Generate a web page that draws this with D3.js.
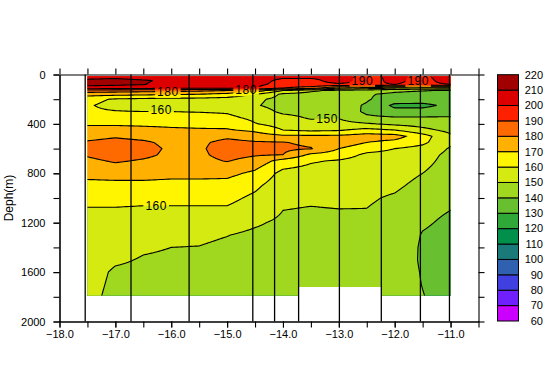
<!DOCTYPE html>
<html>
<head>
<meta charset="utf-8">
<script src="https://cdn.jsdelivr.net/npm/d3@7"></script>
<style>
  body { margin: 0; background: #fff; }
  svg { display: block; font-family: "Liberation Sans", Arial, Helvetica, sans-serif; }
</style>
</head>
<body>
<svg id="chart" width="558" height="390"></svg>
<script>
var lons = [-17.5, -17.0, -16.5, -16.0, -15.5, -15.0, -14.5, -14.0, -13.5, -13.0, -12.5, -12.0, -11.5, -11.0];
var depths = [15, 50, 80, 110, 130, 160, 200, 250, 300, 350, 400, 450, 500, 550, 600, 650, 700,
              800, 900, 1000, 1100, 1200, 1300, 1400, 1500, 1600, 1700, 1800];

// one row per depth level, one value per column
var values = [
  [206, 207, 205, 205, 205, 205, 204, 203, 202, 201, 199, 201, 199, 203],
  [212, 213, 211, 208, 206, 206, 205, 197, 198, 203, 197, 202, 197, 204],
  [213, 212, 210.5, 206, 205, 204, 203, 196, 198, 199, 199, 200, 198, 200],
  [205, 204, 203, 202, 201, 201, 200, 190, 185, 170, 165, 160, 158, 158],
  [186, 185, 184, 183, 182, 180, 176, 160, 152, 147, 145, 142, 140.5, 139],
  [174, 173, 172, 171, 170, 167, 160, 148, 146, 145, 141, 138, 136, 136],
  [163, 159, 158, 157, 157, 156, 152, 147, 146, 145, 141, 135, 134, 135],
  [161, 157, 155, 155, 155, 154, 151, 146, 145, 144, 139, 128, 128, 132],
  [161.5, 160.5, 160, 160, 159.5, 159, 155, 148, 147, 147, 138, 133, 133, 135],
  [165, 165, 164, 164, 163.5, 162, 158, 153, 149, 149.5, 142, 141, 141, 141],
  [169, 169, 168.5, 168, 167.5, 166.5, 160.5, 156, 153, 153, 151, 148, 146, 143],
  [173, 173, 172.5, 171.5, 171, 171, 168, 160, 158, 159, 163, 160, 153, 147],
  [177, 179, 177, 175, 175, 178, 175, 172, 172, 172, 175, 174, 164, 152],
  [181, 183, 181.5, 177.5, 178, 183, 181, 180.5, 178, 176, 170, 167, 162, 152],
  [183, 185, 183, 178.5, 178.5, 184.5, 182, 182, 180.5, 170, 164, 160, 157, 149],
  [181, 184, 182, 178, 178, 183.5, 181, 180, 168, 165, 158, 157, 154, 147.5],
  [178, 181, 179, 177, 177, 180.5, 176, 166, 161, 159, 156, 155.5, 153, 146.5],
  [173, 174, 174, 173, 173, 172.5, 168, 157, 156, 155, 154, 153.5, 150, 145],
  [167, 167, 167, 166.5, 166.5, 166.5, 162, 154, 153, 153, 152.5, 151.5, 147.5, 143],
  [163, 163, 162.5, 162.5, 162.5, 162.5, 158, 151.5, 151, 151.5, 151, 149, 145, 141],
  [159, 159, 158.5, 158.5, 158.5, 158.5, 155, 150, 149.5, 149.8, 149.8, 147.5, 142, 140],
  [157, 156, 155, 154.5, 154, 153.5, 151, 148.5, 148.5, 148.5, 148.5, 146.5, 141, 138.5],
  [155.5, 154, 152.5, 151.8, 151.5, 150.2, 148.5, 147.5, 147.5, 147.5, 147.5, 145.5, 139.5, 137.5],
  [155, 152.5, 150.8, 150, 149.8, 148.5, 147.5, 147, 147, 147, 147, 145, 139, 137],
  [154, 151, 149.5, 149, 148.5, 147.5, 147, 146.5, 146.5, 146.5, 146.5, 144.5, 139, 136.5],
  [153, 149, 148.5, 148, 147.5, 147, 146.5, 146, 146, 146, 146, 144, 139.5, 136.5],
  [152.5, 148.5, 148, 147.5, 147, 146.5, 146, 146, 146, 146, 145.5, 144, 139.8, 136.5],
  [152, 148, 147.5, 147, 146.5, 146, 146, 145.5, 146, 146, 145, 144, 140.3, 136.5]
];

// station longitudes (vertical lines) and deepest data between neighbouring stations
var stations = [-17.54, -16.72, -15.68, -14.54, -14.15, -13.72, -12.99, -12.24, -11.54, -11.02];
var sectionBottom = [1790, 1790, 1790, 1790, 1790, 1720, 1720, 1790, 1790];
var topDepth = 14;

var levels = d3.range(60, 230, 10);
var binColors = ['#cc00ff', '#7020ff', '#4040e0', '#3060b0', '#1a7a7a', '#00904c', '#30a838', '#68c030',
                 '#a0d820', '#d4ea10', '#fff500', '#ffb000', '#ff6a00', '#ff2000', '#dc0000', '#a00000'];

var xTicks = [-18, -17, -16, -15, -14, -13, -12, -11];
var xMinor = d3.range(-18, -10.4, 0.5);
var yTicks = [0, 400, 800, 1200, 1600, 2000];
var yMinor = d3.range(0, 2001, 200);

var contourLabels = [
  {text: '180', lon: -16.06, depth: 138},
  {text: '180', lon: -14.66, depth: 125},
  {text: '160', lon: -16.18, depth: 287},
  {text: '150', lon: -13.21, depth: 360},
  {text: '160', lon: -16.27, depth: 1061},
  {text: '190', lon: -12.58, depth: 48},
  {text: '190', lon: -11.58, depth: 48}
];

var svg = d3.select('#chart');
var x = d3.scaleLinear().domain([-18, -10.5]).range([59.5, 478.5]);
var y = d3.scaleLinear().domain([0, 2000]).range([74.5, 321.5]);

// sample the grid onto a finer mesh (bilinear) for the contouring
var step = 0.05, dStep = 5;
var gLon0 = -17.7, gLon1 = -10.8, gD0 = 0, gD1 = 1850;
var nx = Math.round((gLon1 - gLon0) / step) + 1,
    ny = Math.round((gD1 - gD0) / dStep) + 1;

function sample(lon, d) {
    var fx = (lon - lons[0]) / (lons[1] - lons[0]);
    fx = Math.max(0, Math.min(lons.length - 1, fx));
    var i = Math.min(lons.length - 2, Math.floor(fx)), tx = fx - i;
    var dc = Math.max(depths[0], Math.min(depths[depths.length - 1], d));
    var j = Math.min(depths.length - 2, d3.bisectRight(depths, dc) - 1);
    var ty = (dc - depths[j]) / (depths[j + 1] - depths[j]);
    var a = values[j][i], b = values[j][i + 1], c = values[j + 1][i], e = values[j + 1][i + 1];
    return (a * (1 - tx) + b * tx) * (1 - ty) + (c * (1 - tx) + e * tx) * ty;
}

var grid = new Array(nx * ny);
for (var gy = 0; gy < ny; gy++) {
    for (var gx = 0; gx < nx; gx++) {
        grid[gy * nx + gx] = sample(gLon0 + gx * step, gD0 + gy * dStep);
    }
}

var contours = d3.contours().size([nx, ny]).thresholds(levels.slice(0, 16))(grid);

var path = d3.geoPath(d3.geoTransform({
    point: function(px, py) {
        this.stream.point(x(gLon0 + (px - 0.5) * step), y(gD0 + (py - 0.5) * dStep));
    }
}));

// clip region: data only down to the bottom of each station pair
var clipPts = [[x(lons[0]), y(topDepth)], [x(lons[lons.length - 1]), y(topDepth)]];
for (var k = sectionBottom.length - 1; k >= 0; k--) {
    var right = k === sectionBottom.length - 1 ? lons[lons.length - 1] : stations[k + 1];
    var left = k === 0 ? lons[0] : stations[k];
    clipPts.push([x(right), y(sectionBottom[k])]);
    clipPts.push([x(left), y(sectionBottom[k])]);
}

var defs = svg.append('defs');
defs.append('clipPath').attr('id', 'dataClip')
    .append('polygon').attr('points', clipPts.map(function(p) { return p.join(','); }).join(' '));

var fills = svg.append('g').attr('clip-path', 'url(#dataClip)');
fills.selectAll('path.band')
    .data(contours)
    .enter().append('path')
        .attr('class', 'band')
        .attr('d', path)
        .attr('fill', function(d) { return binColors[levels.indexOf(d.value)]; })
        .attr('stroke', 'none');

// labels first so we can cut gaps into the lines
var labelG = svg.append('g');
var labelText = labelG.selectAll('text')
    .data(contourLabels)
    .enter().append('text')
        .attr('x', function(d) { return x(d.lon); })
        .attr('y', function(d) { return y(d.depth); })
        .attr('dy', '0.36em')
        .attr('text-anchor', 'middle')
        .attr('font-size', 12)
        .attr('letter-spacing', 0.5)
        .attr('fill', '#000')
        .text(function(d) { return d.text; });

var mask = defs.append('mask').attr('id', 'labelGap');
mask.append('rect').attr('x', 0).attr('y', 0).attr('width', 558).attr('height', 390).attr('fill', '#fff');
labelText.each(function() {
    var b = this.getBBox();
    mask.append('rect')
        .attr('x', b.x - 2).attr('y', b.y + 1)
        .attr('width', b.width + 4).attr('height', b.height - 2)
        .attr('fill', '#000');
});

var lines = svg.insert('g', function() { return labelG.node(); })
    .attr('clip-path', 'url(#dataClip)')
    .append('g').attr('mask', 'url(#labelGap)');
lines.selectAll('path.line')
    .data(contours)
    .enter().append('path')
        .attr('class', 'line')
        .attr('d', path)
        .attr('fill', 'none')
        .attr('stroke', '#000')
        .attr('stroke-width', 1.1);

// station lines
svg.append('g').selectAll('line')
    .data(stations)
    .enter().append('line')
        .attr('x1', function(d) { return x(d); })
        .attr('x2', function(d) { return x(d); })
        .attr('y1', y(0))
        .attr('y2', y(2000))
        .attr('stroke', '#000')
        .attr('stroke-width', 1.3);

// axes on all four sides, ticks outward
function styleAxis(g) {
    g.attr('font-size', 11).attr('font-family', null);
    g.selectAll('path, line').attr('stroke', '#000').attr('stroke-width', 1.1);
    g.selectAll('text').attr('fill', '#000');
}
var fmt = d3.format('.1f');
svg.append('g').attr('transform', 'translate(0,' + y(2000) + ')')
    .call(d3.axisBottom(x).tickValues(xMinor).tickFormat('').tickSize(6).tickSizeOuter(0)).call(styleAxis);
svg.append('g').attr('transform', 'translate(0,' + y(2000) + ')')
    .call(d3.axisBottom(x).tickValues(xTicks).tickFormat(fmt).tickSize(6).tickPadding(3).tickSizeOuter(0)).call(styleAxis);
svg.append('g').attr('transform', 'translate(0,' + y(0) + ')')
    .call(d3.axisTop(x).tickValues(xMinor).tickFormat('').tickSize(6).tickSizeOuter(0)).call(styleAxis);
svg.append('g').attr('transform', 'translate(' + x(-18) + ',0)')
    .call(d3.axisLeft(y).tickValues(yMinor).tickFormat('').tickSize(6).tickSizeOuter(0)).call(styleAxis);
svg.append('g').attr('transform', 'translate(' + x(-18) + ',0)')
    .call(d3.axisLeft(y).tickValues(yTicks).tickFormat(d3.format('d')).tickSize(6).tickPadding(8).tickSizeOuter(0)).call(styleAxis);
svg.append('g').attr('transform', 'translate(' + x(-10.5) + ',0)')
    .call(d3.axisRight(y).tickValues(yMinor).tickFormat('').tickSize(6).tickSizeOuter(0)).call(styleAxis);

svg.append('text')
    .attr('transform', 'translate(9,' + y(1000) + ') rotate(-90)')
    .attr('text-anchor', 'middle')
    .attr('dy', '0.35em')
    .attr('font-size', 12)
    .text('Deph(m)');

// colour bar
var legendY = d3.scaleLinear().domain([60, 220]).range([321, 74.7]);
var legend = svg.append('g');
legend.selectAll('rect')
    .data(levels.slice(0, 16))
    .enter().append('rect')
        .attr('x', 497.5)
        .attr('width', 21)
        .attr('y', function(d) { return legendY(d + 10); })
        .attr('height', function(d) { return legendY(d) - legendY(d + 10); })
        .attr('fill', function(d, i) { return binColors[i]; })
        .attr('stroke', '#000')
        .attr('stroke-width', 1);
legend.selectAll('text')
    .data(levels)
    .enter().append('text')
        .attr('x', 543)
        .attr('y', function(d) { return legendY(d); })
        .attr('dy', '0.35em')
        .attr('text-anchor', 'end')
        .attr('font-size', 11)
        .text(function(d) { return d; });
</script>
</body>
</html>
